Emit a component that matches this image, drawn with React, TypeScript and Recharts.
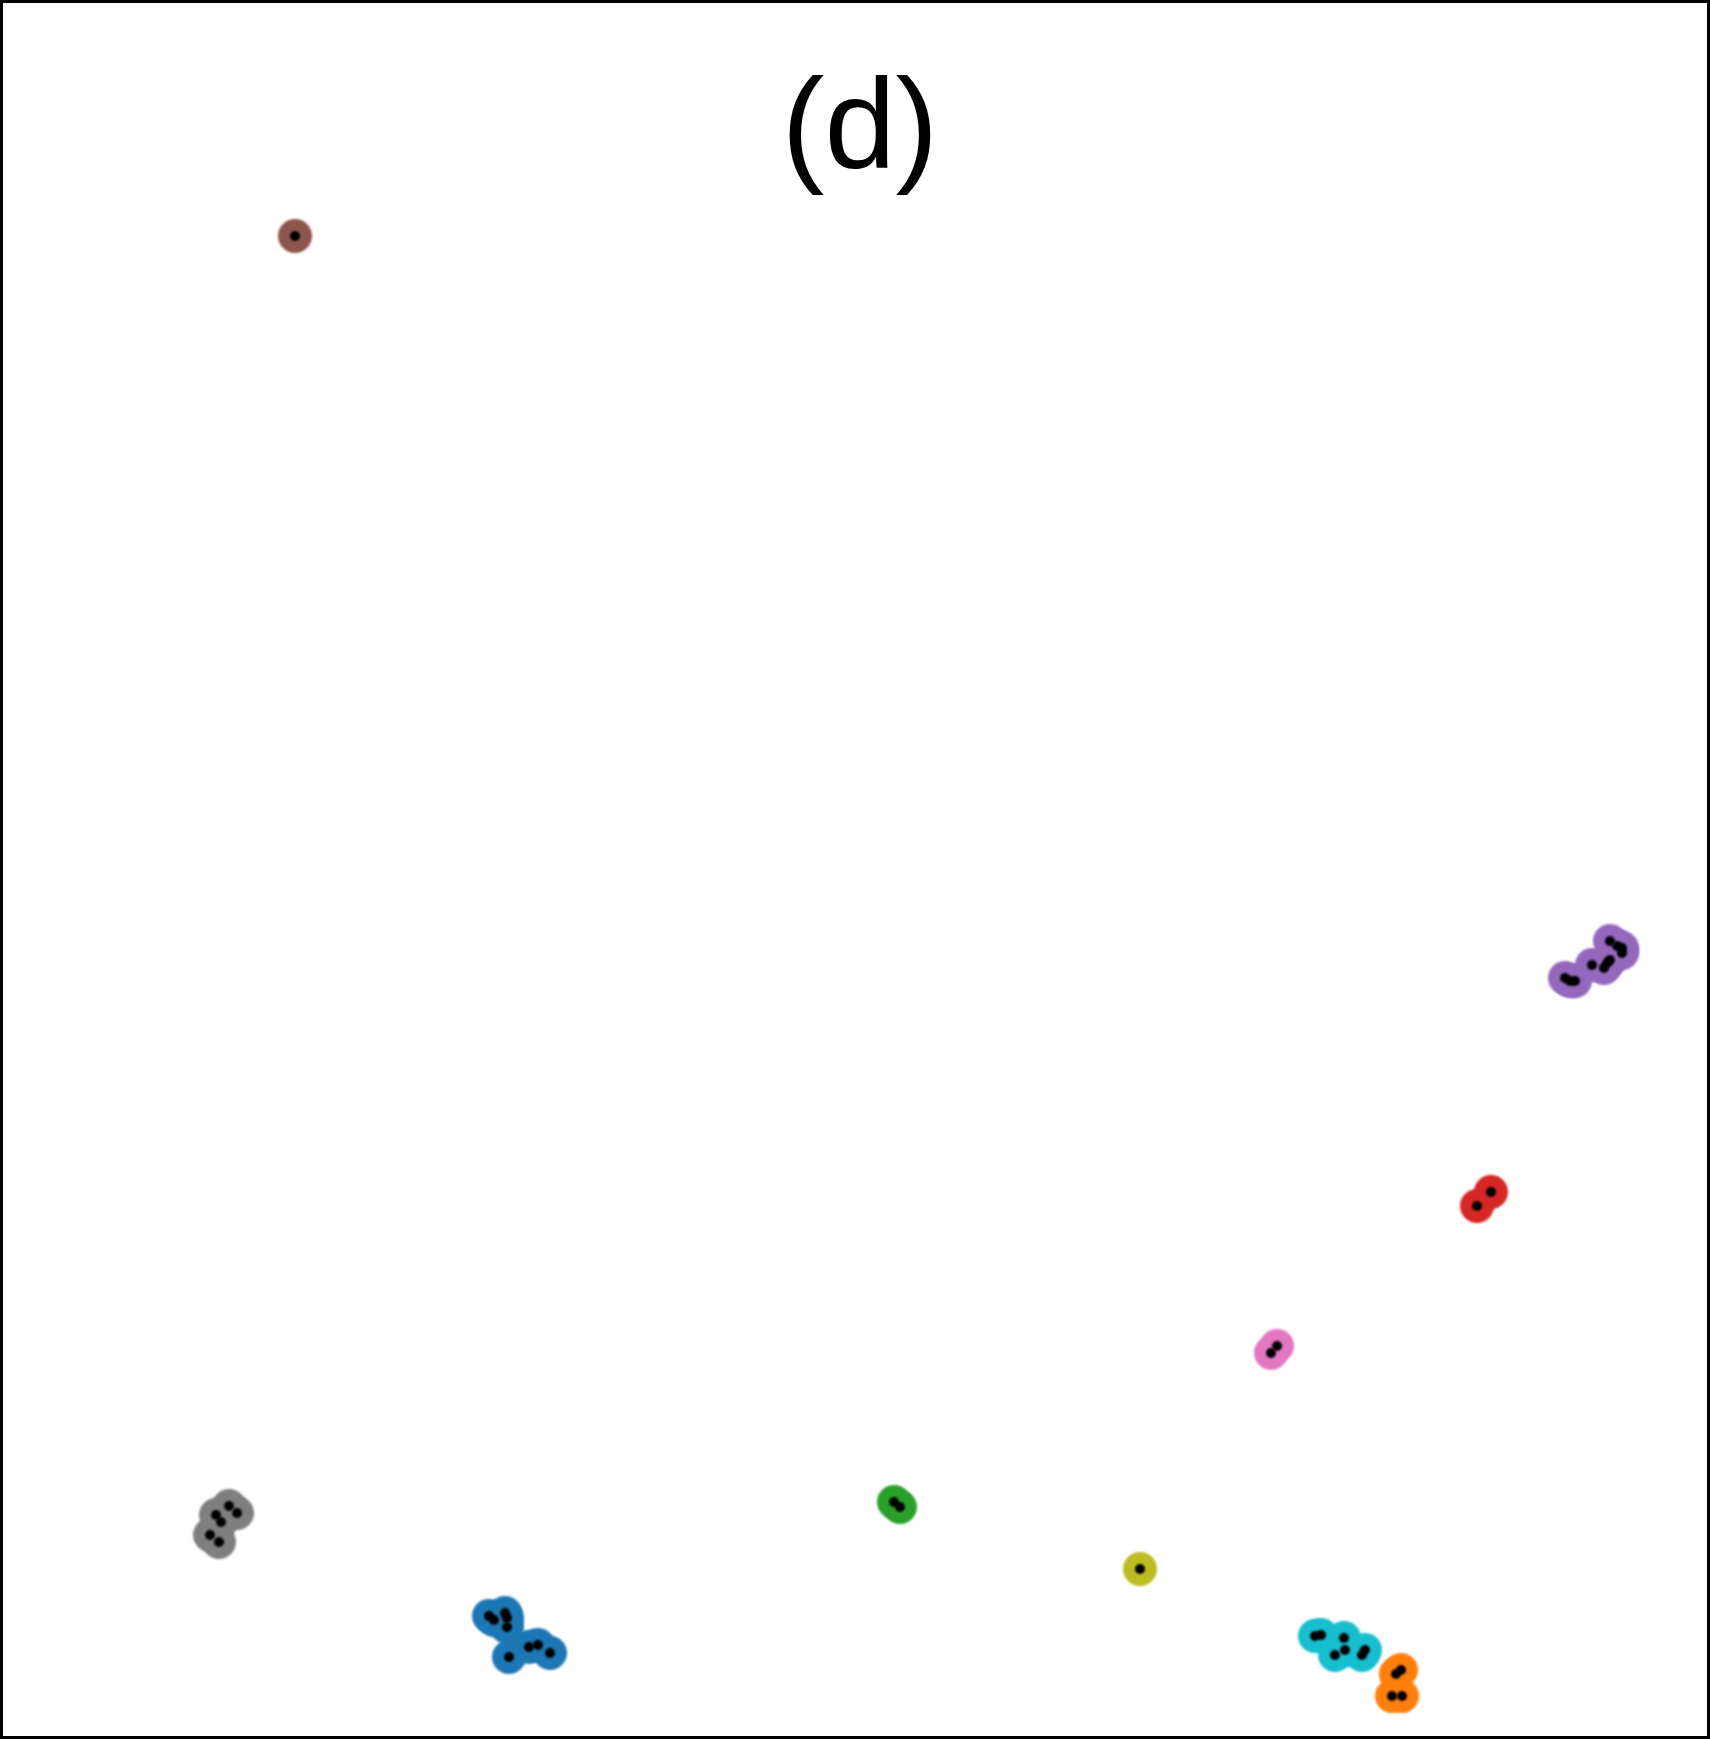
import React from "react";
import { Scatter, ScatterChart, XAxis, YAxis } from "recharts";

// embedding coordinates (x right, y down)
const gray = [
  { x: 216, y: 1515 }, { x: 221, y: 1522 }, { x: 229, y: 1506 },
  { x: 237, y: 1513 }, { x: 210, y: 1535 }, { x: 219, y: 1542 },
];
const blue = [
  { x: 489, y: 1616 }, { x: 494, y: 1620 }, { x: 505, y: 1613 },
  { x: 507, y: 1618 }, { x: 507, y: 1627 }, { x: 509, y: 1657 },
  { x: 529, y: 1647 }, { x: 538, y: 1645 }, { x: 550, y: 1653 },
];
const green = [{ x: 894, y: 1502 }, { x: 900, y: 1507 }];
const olive = [{ x: 1140, y: 1569 }];
const cyan = [
  { x: 1315, y: 1636 }, { x: 1321, y: 1635 }, { x: 1344, y: 1638 },
  { x: 1345, y: 1650 }, { x: 1335, y: 1655 }, { x: 1362, y: 1655 },
  { x: 1365, y: 1650 },
];
const orange = [
  { x: 1396, y: 1674 }, { x: 1401, y: 1670 }, { x: 1392, y: 1696 },
  { x: 1402, y: 1696 },
];
const pink = [{ x: 1271, y: 1353 }, { x: 1277, y: 1346 }];
const red = [{ x: 1491, y: 1192 }, { x: 1477, y: 1206 }];
const purple = [
  { x: 1565, y: 978 }, { x: 1570, y: 981 }, { x: 1575, y: 981 },
  { x: 1592, y: 965 }, { x: 1604, y: 968 }, { x: 1607, y: 963 },
  { x: 1610, y: 960 }, { x: 1610, y: 941 }, { x: 1617, y: 946 },
  { x: 1622, y: 948 }, { x: 1622, y: 953 },
];
const brown = [{ x: 295, y: 236 }];

const clusters = [
  { name: "blue", color: "#1f77b4", data: blue },
  { name: "orange", color: "#ff7f0e", data: orange },
  { name: "green", color: "#2ca02c", data: green },
  { name: "red", color: "#d62728", data: red },
  { name: "purple", color: "#9467bd", data: purple },
  { name: "brown", color: "#8c564b", data: brown },
  { name: "pink", color: "#e377c2", data: pink },
  { name: "gray", color: "#7f7f7f", data: gray },
  { name: "olive", color: "#bcbd22", data: olive },
  { name: "cyan", color: "#17becf", data: cyan },
];

const allPoints = clusters.flatMap((c) => c.data);

const W = 1710;
const H = 1739;

const halo = (color: string) => (p: any) =>
  <circle cx={p.cx} cy={p.cy} r={17} fill={color} filter="url(#soft)" />;

const dot = (p: any) => <circle cx={p.cx} cy={p.cy} r={5} fill="#000" filter="url(#soft)" />;

export default function App() {
  return (
    <div
      style={{
        position: "absolute",
        left: 0,
        top: 0,
        width: W,
        height: H,
        background: "#fff",
        boxSizing: "border-box",
      }}
    >
      <svg width={0} height={0} style={{ position: "absolute" }}>
        <defs>
          <filter id="soft" x="-50%" y="-50%" width="200%" height="200%">
            <feGaussianBlur stdDeviation={1.1} />
          </filter>
        </defs>
      </svg>
      <ScatterChart width={W} height={H} margin={{ top: 0, right: 0, bottom: 0, left: 0 }}>
        <XAxis type="number" dataKey="x" domain={[0, W]} hide />
        <YAxis type="number" dataKey="y" domain={[0, H]} reversed hide />
        {clusters.map((c) => (
          <Scatter
            key={c.name}
            name={c.name}
            data={c.data}
            shape={halo(c.color)}
            isAnimationActive={false}
          />
        ))}
        <Scatter name="points" data={allPoints} shape={dot} isAnimationActive={false} />
      </ScatterChart>
      <svg width={W} height={H} style={{ position: "absolute", left: 0, top: 0, pointerEvents: "none" }}>
        <text
          x={860}
          y={168}
          textAnchor="middle"
          fontFamily="'Liberation Sans', Arial, sans-serif"
          fontSize={128}
          fill="#000"
        >
          (d)
        </text>
        <rect x={1.5} y={1.5} width={W - 3} height={H - 3} fill="none" stroke="#000" strokeWidth={3} />
      </svg>
    </div>
  );
}
